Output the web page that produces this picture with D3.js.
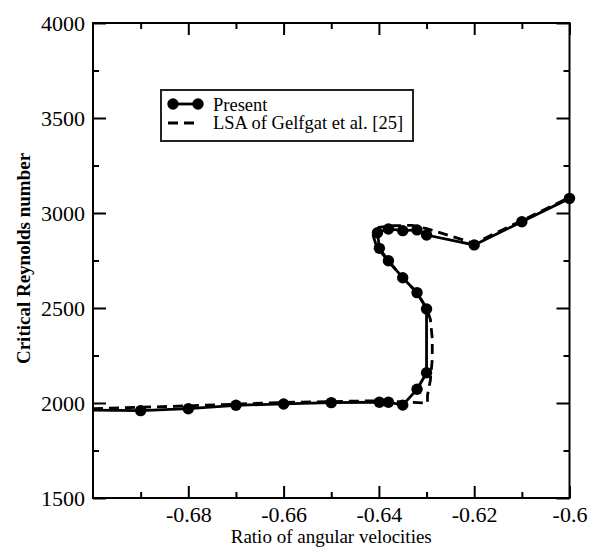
<!DOCTYPE html>
<html>
<head>
<meta charset="utf-8">
<script src="https://cdn.jsdelivr.net/npm/d3@7"></script>
<style>
  body { margin: 0; background: #fff; }
  .container { width: 599px; height: 547px; }
  svg text { font-family: "Liberation Serif", "Times New Roman", serif; fill: #000; }
</style>
</head>
<body>
<div class="container"></div>
<script>
// present results (ratio of angular velocities, critical Re)
const presentX = [-0.70, -0.69, -0.68, -0.67, -0.66, -0.65, -0.6399, -0.638, -0.635, -0.632, -0.630, -0.630,
  -0.632, -0.635, -0.638, -0.6399, -0.6403, -0.638, -0.635, -0.632, -0.630, -0.62, -0.61, -0.60]
const presentY = [1962, 1960, 1970, 1988, 1995, 2002, 2004, 2004, 1989, 2072, 2159, 2495,
  2581, 2659, 2749, 2814, 2896, 2916, 2907, 2911, 2884, 2832, 2954, 3077]

// LSA of Gelfgat et al.
const gelfgatX = [-0.70, -0.68, -0.66, -0.64, -0.6298, -0.6298, -0.6292, -0.6288, -0.6288, -0.6292, -0.630,
  -0.632, -0.635, -0.638, -0.6405, -0.6412, -0.640, -0.637, -0.633, -0.630, -0.62, -0.61, -0.60]
const gelfgatY = [1970, 1985, 2003, 2012, 2000, 2040, 2120, 2230, 2340, 2440, 2500,
  2580, 2660, 2745, 2825, 2880, 2925, 2933, 2935, 2918, 2840, 2960, 3082]

// ticks
const xTicks = [-0.68, -0.66, -0.64, -0.62, -0.6]
const xMinor = [-0.69, -0.67, -0.65, -0.63, -0.61]
const yTicks = [1500, 2000, 2500, 3000, 3500, 4000]
const yMinor = [1750, 2250, 2750, 3250, 3750]

const W = 599, H = 547
const plotL = 93, plotR = 569.5, plotT = 23, plotB = 498
const serif = '"Liberation Serif", "Times New Roman", serif'

const svg = d3.select('.container')
    .append('svg')
    .attr('width', W)
    .attr('height', H)

const x = d3.scaleLinear().domain([-0.7, -0.6]).range([plotL, plotR])
const y = d3.scaleLinear().domain([1500, 4000]).range([plotB, plotT])

//axes: ticks pointing inwards on all four sides
function styleAxis(g) {
    g.attr('font-family', serif).attr('font-size', 22)
    g.select('.domain').remove()
    g.selectAll('line').attr('stroke', '#000').attr('stroke-width', 2)
    g.selectAll('text').attr('fill', '#000')
}

svg.append('g')
    .attr('transform', `translate(0,${plotB})`)
    .call(d3.axisBottom(x).tickValues(xTicks).tickSize(-12).tickPadding(8).tickFormat(d => String(d)))
    .call(styleAxis)
svg.append('g')
    .attr('transform', `translate(0,${plotB})`)
    .call(d3.axisBottom(x).tickValues(xMinor).tickSize(-6).tickFormat(''))
    .call(styleAxis)
svg.append('g')
    .attr('transform', `translate(0,${plotT})`)
    .call(d3.axisTop(x).tickValues(xTicks).tickSize(-12).tickFormat(''))
    .call(styleAxis)
svg.append('g')
    .attr('transform', `translate(0,${plotT})`)
    .call(d3.axisTop(x).tickValues(xMinor).tickSize(-6).tickFormat(''))
    .call(styleAxis)

svg.append('g')
    .attr('transform', `translate(${plotL},0)`)
    .call(d3.axisLeft(y).tickValues(yTicks).tickSize(-13).tickPadding(8).tickFormat(d => String(d)))
    .call(styleAxis)
svg.append('g')
    .attr('transform', `translate(${plotL},0)`)
    .call(d3.axisLeft(y).tickValues(yMinor).tickSize(-6).tickFormat(''))
    .call(styleAxis)
svg.append('g')
    .attr('transform', `translate(${plotR},0)`)
    .call(d3.axisRight(y).tickValues(yTicks).tickSize(-13).tickFormat(''))
    .call(styleAxis)
svg.append('g')
    .attr('transform', `translate(${plotR},0)`)
    .call(d3.axisRight(y).tickValues(yMinor).tickSize(-6).tickFormat(''))
    .call(styleAxis)

//frame
svg.append('rect')
    .attr('x', plotL)
    .attr('y', plotT)
    .attr('width', plotR - plotL)
    .attr('height', plotB - plotT)
    .attr('fill', 'none')
    .attr('stroke', '#000')
    .attr('stroke-width', 2)

//curves
const present = presentX.map((d, i) => [d, presentY[i]])
const gelfgat = gelfgatX.map((d, i) => [d, gelfgatY[i]])

const line = d3.line().x(d => x(d[0])).y(d => y(d[1]))

svg.append('path')
    .attr('d', line(gelfgat))
    .attr('fill', 'none')
    .attr('stroke', '#000')
    .attr('stroke-width', 2.8)
    .attr('stroke-dasharray', '10,6')

svg.append('path')
    .attr('d', line(present))
    .attr('fill', 'none')
    .attr('stroke', '#000')
    .attr('stroke-width', 2.8)

// no symbol on the point sitting on the left axis
svg.append('g')
    .selectAll('circle')
    .data(present.filter(d => d[0] > -0.7))
    .join('circle')
    .attr('cx', d => x(d[0]))
    .attr('cy', d => y(d[1]))
    .attr('r', 5.7)
    .attr('fill', '#000')

//legend
const lg = svg.append('g')
    .attr('font-family', serif)
    .attr('font-size', 18.5)
lg.append('rect')
    .attr('x', 161)
    .attr('y', 90)
    .attr('width', 252)
    .attr('height', 51)
    .attr('fill', '#fff')
    .attr('stroke', '#222')
    .attr('stroke-width', 2)
lg.append('line')
    .attr('x1', 173).attr('x2', 198).attr('y1', 104).attr('y2', 104)
    .attr('stroke', '#000').attr('stroke-width', 2.8)
lg.selectAll('circle')
    .data([173, 198])
    .join('circle')
    .attr('cx', d => d)
    .attr('cy', 104)
    .attr('r', 5.7)
    .attr('fill', '#000')
lg.append('line')
    .attr('x1', 168).attr('x2', 200).attr('y1', 123).attr('y2', 123)
    .attr('stroke', '#000').attr('stroke-width', 2.8)
    .attr('stroke-dasharray', '10,6')
lg.append('text')
    .attr('x', 213).attr('y', 110.5)
    .text('Present')
lg.append('text')
    .attr('x', 213).attr('y', 129)
    .text('LSA of Gelfgat et al. [25]')

//axis titles
svg.append('text')
    .attr('x', (plotL + plotR) / 2)
    .attr('y', 543)
    .attr('text-anchor', 'middle')
    .attr('font-family', serif)
    .attr('font-size', 19)
    .text('Ratio of angular velocities')

svg.append('text')
    .attr('transform', `translate(30,${(plotT + plotB) / 2 - 2}) rotate(-90)`)
    .attr('text-anchor', 'middle')
    .attr('font-family', serif)
    .attr('font-size', 19)
    .attr('font-weight', 'bold')
    .text('Critical Reynolds number')
</script>
</body>
</html>
